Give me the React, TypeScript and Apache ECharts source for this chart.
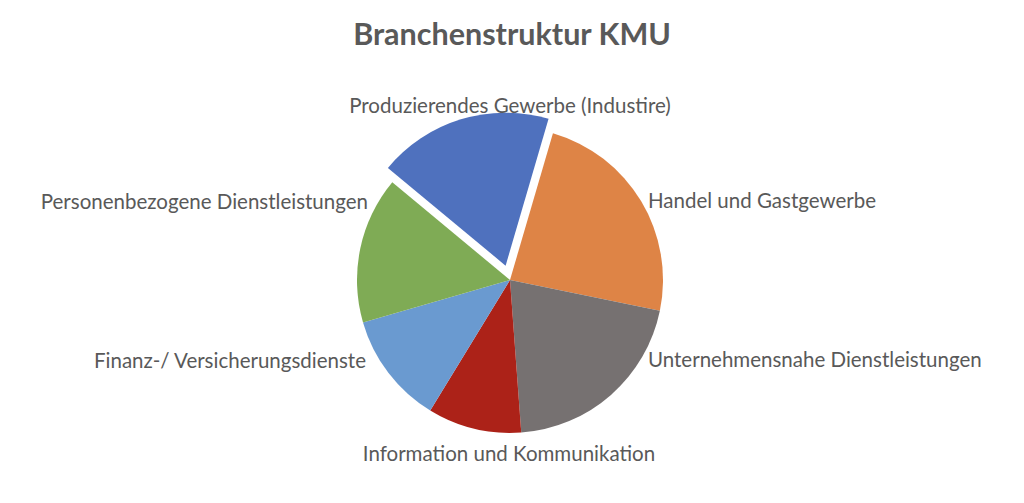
import React, { useEffect, useRef } from 'react'
import * as echarts from 'echarts'
import type { ECharts, EChartsOption } from 'echarts'

// Branchen im Uhrzeigersinn, beginnend mit dem herausgezogenen Segment
const categories = [
  'Produzierendes Gewerbe (Industire)',
  'Handel und Gastgewerbe',
  'Unternehmensnahe Dienstleistungen',
  'Information und Kommunikation',
  'Finanz-/ Versicherungsdienste',
  'Personenbezogene Dienstleistungen',
]
const shares = [18.5, 23.7, 20.6, 9.9, 11.8, 15.5]

const colors = ['#4F71BE', '#DE8446', '#767171', '#AC2218', '#6A9AD0', '#7FAB55']

// Excel-artige Beschriftungspositionen (Ankerpunkt, Ausrichtung)
const labelAnchors: [number, number, 'left' | 'right' | 'center'][] = [
  [510, 105, 'center'],
  [648, 200, 'left'],
  [648, 359, 'left'],
  [509, 453, 'center'],
  [366, 360, 'right'],
  [368, 201, 'right'],
]

const FONT = 'Lato, "Noto Sans", sans-serif'
const CENTER = [510, 280]
const RADIUS = 153
const START = 140.3
const EXPLODE = 15 // Abstand des herausgezogenen Segments
const HIDDEN = 'rgba(0,0,0,0)'

export default function App() {
  const chartRef = useRef<HTMLDivElement | null>(null)
  const chartInstance = useRef<ECharts | null>(null)

  useEffect(() => {
    // Mitte des ersten Segments -> Verschiebungsrichtung
    const total = shares.reduce((s, v) => s + v, 0)
    const mid = ((START - (shares[0] / total) * 180) * Math.PI) / 180
    const dx = EXPLODE * Math.cos(mid)
    const dy = -EXPLODE * Math.sin(mid)

    // Hauptkreis ohne erstes Segment, zweiter Kreis nur mit erstem Segment
    const pieData = (visible: (i: number) => boolean) =>
      categories.map((name, i) => ({
        name,
        value: shares[i],
        itemStyle: { color: visible(i) ? colors[i] : HIDDEN },
      }))

    const option: EChartsOption = {
      animation: false,
      title: {
        text: 'Branchenstruktur KMU',
        left: 'center',
        top: 12,
        textStyle: {
          fontFamily: FONT,
          fontSize: 30.5,
          fontWeight: 'bold',
          color: '#595959',
        },
      },
      series: [
        {
          type: 'pie',
          center: CENTER,
          radius: RADIUS,
          startAngle: START,
          clockwise: true,
          silent: true,
          avoidLabelOverlap: false,
          label: {
            show: true,
            position: 'outside',
            formatter: '{b}',
            fontFamily: FONT,
            fontSize: 20.5,
            color: '#595959',
          },
          labelLine: { show: false },
          labelLayout: (params: any) => {
            const a = labelAnchors[params.dataIndex]
            return { x: a[0], y: a[1], align: a[2], verticalAlign: 'middle' }
          },
          data: pieData((i) => i !== 0),
        },
        {
          type: 'pie',
          center: [CENTER[0] + dx, CENTER[1] + dy],
          radius: RADIUS,
          startAngle: START,
          clockwise: true,
          silent: true,
          label: { show: false },
          labelLine: { show: false },
          data: pieData((i) => i === 0),
        },
      ],
    }

    if (chartRef.current) {
      chartInstance.current = echarts.init(chartRef.current, null, { renderer: 'svg' })
      chartInstance.current.setOption(option)
    }

    return () => {
      chartInstance.current?.dispose()
    }
  }, [])

  return (
    <div
      ref={chartRef}
      style={{ position: 'absolute', left: 0, top: 0, width: '1024px', height: '503px', background: '#fff' }}
    />
  )
}
